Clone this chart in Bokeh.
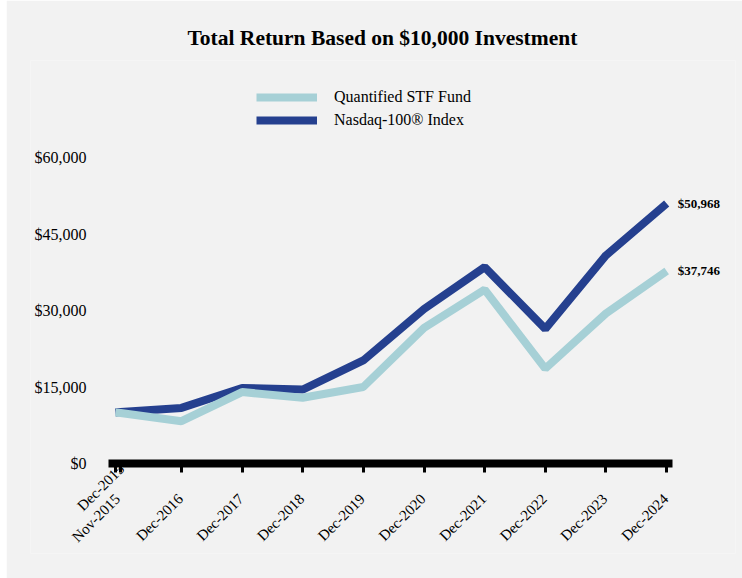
import math
import pandas as pd
from bokeh.plotting import figure
from bokeh.models import (FixedTicker, Legend, LegendItem, Range1d,
                          ColumnDataSource)
from bokeh.embed import file_html
from bokeh.resources import INLINE

# ---- data ----
dates = ["2015-11-30", "2015-12-31", "2016-12-31", "2017-12-31", "2018-12-31",
         "2019-12-31", "2020-12-31", "2021-12-31", "2022-12-31", "2023-12-31",
         "2024-12-31"]
tick_labels = ["Nov-2015", "Dec-2015", "Dec-2016", "Dec-2017", "Dec-2018",
               "Dec-2019", "Dec-2020", "Dec-2021", "Dec-2022", "Dec-2023",
               "Dec-2024"]
fund = [10000, 9900, 8300, 14000, 12900, 15000, 26600, 34100, 18600, 29400, 37746]
nasdaq = [10000, 10100, 10900, 14800, 14500, 20200, 30300, 38500, 26400, 40800, 50968]
series_names = ["Quantified STF Fund", "Nasdaq-100\u00ae Index"]
y_ticks = [0, 15000, 30000, 45000, 60000]

FONT = "Liberation Serif"
BG = "#f2f2f2"
C_FUND = "#a6d0d6"
C_NDX = "#25408f"

idx = pd.to_datetime(dates)
ms = [float(v) for v in (idx.asi8 // 10**6)]
month_ms = 30.44 * 24 * 3600 * 1000

# page layout (pixels): first point at 115, ~5.055 px per month
PX_M = 551 / 109.0
def px_to_x(px):
    return ms[0] + (px - 115) / PX_M * month_ms

p = figure(width=736, height=578, x_axis_type="datetime",
           output_backend="svg", toolbar_location=None,
           min_border_left=24, min_border_right=7,
           min_border_top=60, min_border_bottom=25,
           background_fill_color=BG, border_fill_color=BG,
           outline_line_color=None)
p.margin = (0, 0, 0, 6)

# frame spans x 30..735 and y 60..553 on the page; value 0 at 463, 5.1 px per 1,000
p.x_range = Range1d(px_to_x(30), px_to_x(735))
p.y_range = Range1d(-(553 - 463) / 5.1 * 1000, (463 - 60) / 5.1 * 1000)

p.title.text = "Total Return Based on $10,000 Investment"
p.title.text_font = FONT
p.title.text_font_size = "21.5px"
p.title.text_font_style = "bold"
p.title.align = "left"
p.title.offset = 157
p.title.standoff = 22
p.title.text_color = "#000000"

p.xgrid.visible = False
p.ygrid.visible = False

src = ColumnDataSource(dict(x=ms, fund=fund, nasdaq=nasdaq))
r_ndx = p.line("x", "nasdaq", source=src, line_color=C_NDX, line_width=8)
r_fund = p.line("x", "fund", source=src, line_color=C_FUND, line_width=8)

# end value labels
end_src = ColumnDataSource(dict(x=[ms[-1], ms[-1]], y=[nasdaq[-1], fund[-1]],
                                t=["${:,.0f}".format(nasdaq[-1]), "${:,.0f}".format(fund[-1])]))
p.text("x", "y", text="t", source=end_src, x_offset=11, y_offset=0,
       text_font=FONT, text_font_size="13px", text_font_style="bold",
       text_baseline="middle", text_align="left", text_color="#000000")

# x axis: line and ticks at value 0
xa = p.xaxis[0]
xa.fixed_location = 0
xa.bounds = (px_to_x(108), px_to_x(672))
xa.ticker = FixedTicker(ticks=ms)
xa.major_label_overrides = {t: "" for t in ms}
xa.major_label_text_font_size = "1px"
xa.major_label_standoff = 0
xa.axis_line_color = "#000000"
xa.axis_line_width = 8
xa.major_tick_line_color = "#000000"
xa.major_tick_line_width = 3
xa.major_tick_out = 9
xa.major_tick_in = 0
xa.minor_tick_line_color = None

# rotated tick labels under the axis (Dec-2015 sits raised, as in the source)
lab_src = ColumnDataSource(dict(
    x=ms, y=[0] * len(ms), t=tick_labels,
    xo=[2 if i == 0 else (1 if i == 1 else -1) for i in range(len(ms))],
    yo=[3 if i == 1 else 33 for i in range(len(ms))]))
p.text("x", "y", text="t", source=lab_src, angle=math.pi / 4,
       x_offset="xo", y_offset="yo", text_align="right", text_baseline="middle",
       text_font=FONT, text_font_size="15px", text_color="#000000")

# y tick labels, right edge at page x ~86
p.yaxis.visible = False
ylab_src = ColumnDataSource(dict(
    x=[px_to_x(86)] * len(y_ticks), y=y_ticks,
    t=["${:,.0f}".format(v) for v in y_ticks]))
p.text("x", "y", text="t", source=ylab_src, text_align="right",
       text_baseline="middle", text_font=FONT, text_font_size="16px",
       text_color="#000000")

legend = Legend(items=[LegendItem(label=series_names[0], renderers=[r_fund]),
                       LegendItem(label=series_names[1], renderers=[r_ndx])],
                location=(226, 423), orientation="vertical",
                glyph_width=61, glyph_height=20, label_height=20,
                label_standoff=17, spacing=3, padding=0, margin=0,
                border_line_color=None, background_fill_alpha=0,
                label_text_font=FONT, label_text_font_size="16px",
                label_text_color="#000000")
p.add_layout(legend)

open("out.html", "w").write(file_html(p, INLINE))
